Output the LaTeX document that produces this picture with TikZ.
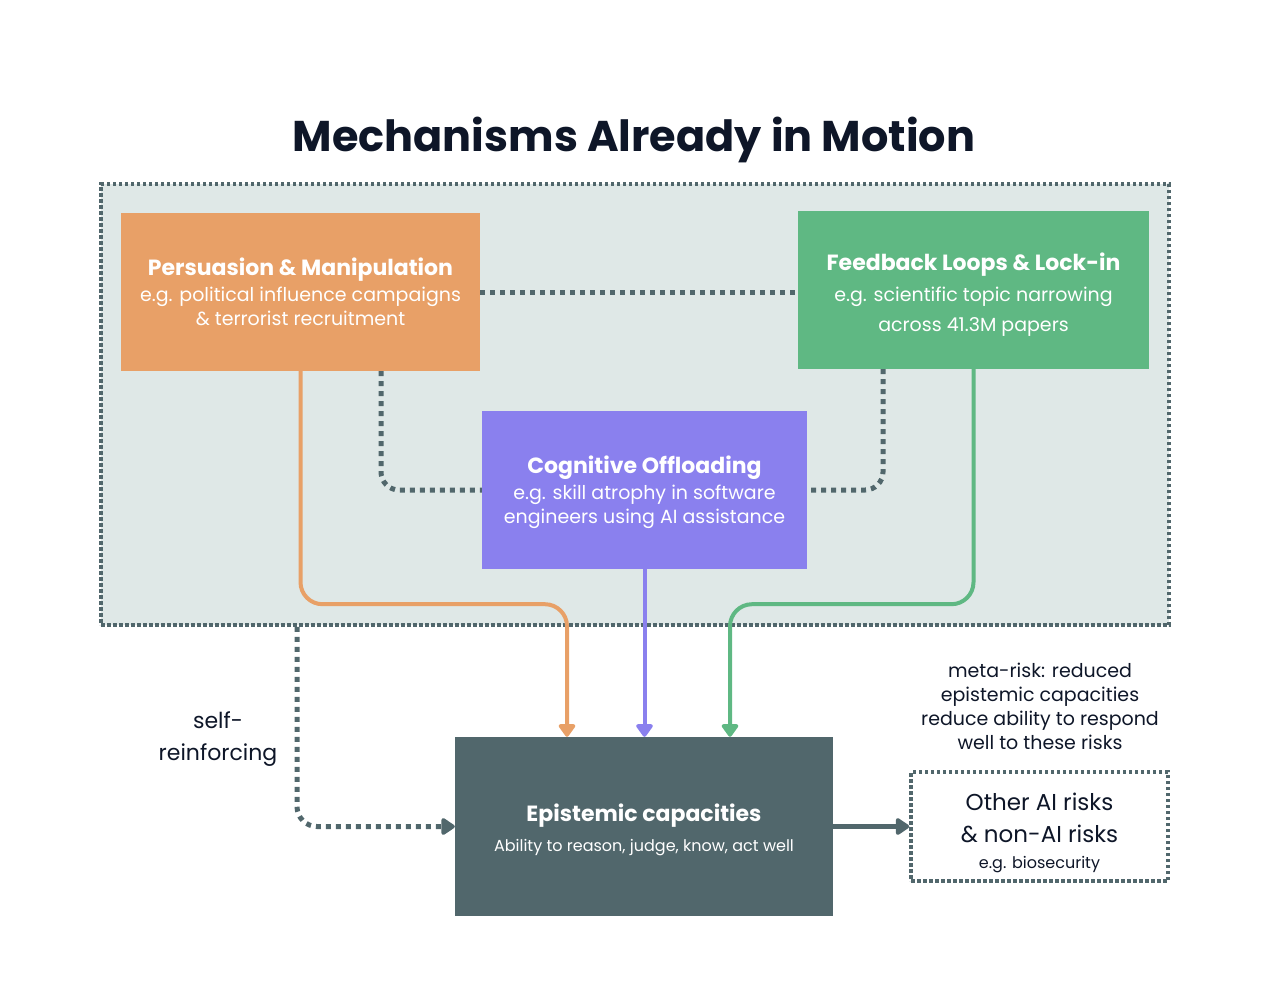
\documentclass[tikz,border=0pt]{standalone}
\usepackage{fontspec}
\setmainfont{Poppins}
\usetikzlibrary{arrows.meta,positioning}

\definecolor{ink}{HTML}{0E1628}
\definecolor{slate}{HTML}{51676C}
\definecolor{mist}{HTML}{DFE8E7}
\definecolor{persorange}{HTML}{E8A067}
\definecolor{loopgreen}{HTML}{5FB883}
\definecolor{offpurple}{HTML}{8A80EE}

\newcommand{\headfont}{\fontsize{22}{26}\selectfont\bfseries}
\newcommand{\bodyfont}{\fontsize{19}{24}\selectfont}

\tikzset{
  mechbox/.style={rectangle, inner sep=0pt, align=center, text=white, font=\bodyfont},
  dotlink/.style={draw=slate, line width=5pt, dash pattern=on 5pt off 5pt, rounded corners=18pt},
  flow/.style={line width=4pt, rounded corners=22pt, -{Triangle[width=19pt,length=14pt,round]}},
}

\begin{document}
\begin{tikzpicture}[x=1pt,y=-1pt]
  \useasboundingbox (0,0) rectangle (1276,994);

  % title
  \node[font=\fontsize{43}{48}\selectfont\bfseries, text=ink] (title) at (634,140) {Mechanisms Already in Motion};

  % group of mechanisms
  \node[draw=slate, fill=mist, line width=3.5pt, dash pattern=on 3.5pt off 2.5pt,
        minimum width=1068pt, minimum height=441pt] (group) at (635,404.5) {};

  \node[mechbox, fill=persorange, minimum width=359pt, minimum height=158pt] (pers) at (300.5,292)
    {{\headfont Persuasion \& Manipulation}\\[2pt] e.g. political influence campaigns\\ \& terrorist recruitment};
  \node[mechbox, fill=loopgreen, minimum width=351pt, minimum height=158pt] (feed) at (973.5,290)
    {\rule{0pt}{26pt}{\headfont Feedback Loops \& Lock-in}\\[7pt] e.g. scientific topic narrowing\\[6pt] across 41.3M papers};
  \node[mechbox, fill=offpurple, minimum width=325pt, minimum height=158pt] (cog) at (644.5,490)
    {\rule{0pt}{22pt}{\headfont Cognitive Offloading}\\[2pt] e.g. skill atrophy in software\\ engineers using AI assistance};

  % links inside the group
  \draw[dotlink] (pers.east) -- (pers.east -| feed.west);
  \draw[dotlink] ([xshift=80.5pt]pers.south) |- (cog.west);
  \draw[dotlink] ([xshift=-90.5pt]feed.south) |- (cog.east);

  % target
  \node[mechbox, fill=slate, minimum width=378pt, minimum height=179pt] (epi) at (644,826.5)
    {\rule{0pt}{25pt}{\headfont Epistemic capacities}\\[6pt] {\fontsize{16}{20}\selectfont Ability to reason, judge, know, act well}};
  \node[draw=slate, fill=white, line width=3.5pt, dash pattern=on 3.5pt off 2.5pt, align=center,
        text=ink, font=\fontsize{23}{32}\selectfont, minimum width=257pt, minimum height=109pt] (other) at (1039.5,826.5)
    {\rule{0pt}{30pt}Other AI risks\\ \& non-AI risks\\[-6pt] {\fontsize{16}{18}\selectfont e.g. biosecurity}};

  % flows
  \draw[flow, persorange] (pers.south) -- ++(0,233) -| ([xshift=-77pt]epi.north);
  \draw[flow, offpurple] (cog.south) -- (cog.south |- epi.north);
  \draw[flow, loopgreen] (feed.south) -- ++(0,235) -| ([xshift=86pt]epi.north);
  \draw[slate, line width=5pt, -{Triangle[width=19pt,length=15pt,round]}] (epi.east) -- (other.west);
  \draw[dotlink, rounded corners=20pt, -{Triangle[width=19pt,length=15pt,round]}]
    ([xshift=-338pt]group.south) |- (epi.west);

  % notes
  \node[align=center, text=ink, font=\fontsize{22}{32}\selectfont] (selfnote) at (218,739) {self-\\reinforcing};
  \node[align=center, text=ink, font=\fontsize{19}{24}\selectfont] (metanote) at (1040,706)
    {meta-risk: reduced\\ epistemic capacities\\ reduce ability to respond\\ well to these risks};
\end{tikzpicture}
\end{document}
